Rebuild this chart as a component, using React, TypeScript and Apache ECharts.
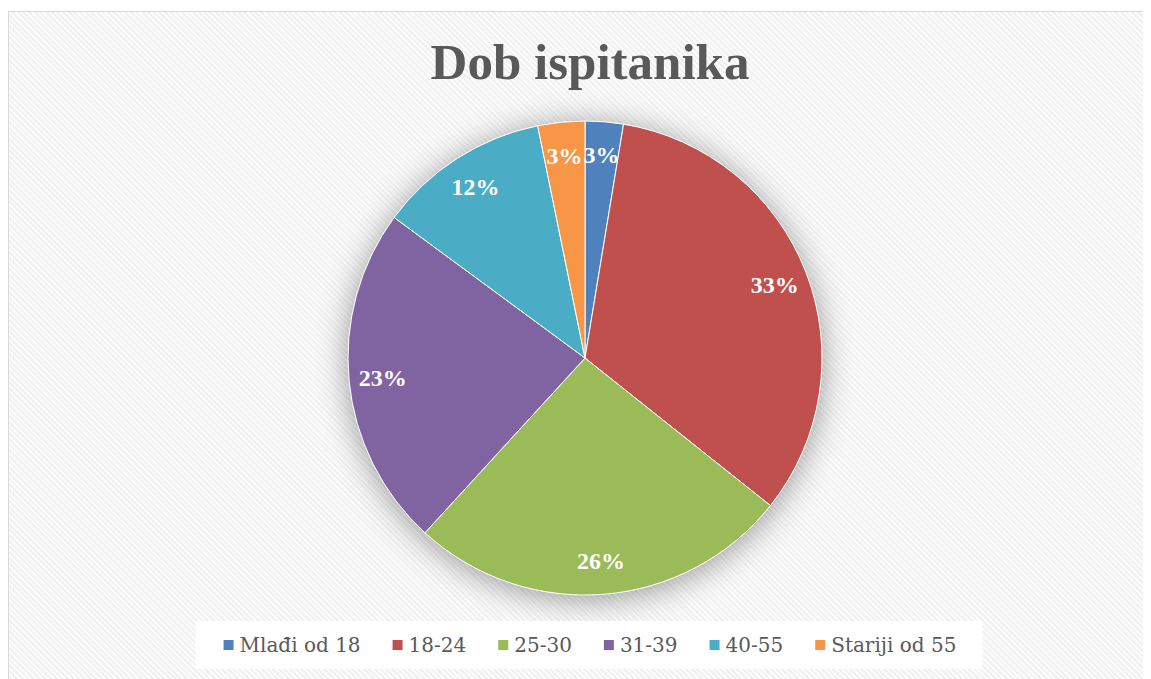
import React, { useEffect, useRef } from "react";
import * as echarts from "echarts";

const titleText = "Dob ispitanika";
const categories = ["Mlađi od 18", "18-24", "25-30", "31-39", "40-55", "Stariji od 55"];
const values = [2.6, 33.1, 26.1, 23.3, 11.7, 3.2];
const colors = ["#4F81BD", "#C0504D", "#9BBB59", "#8064A2", "#4BACC6", "#F79646"];

export default function App() {
  const ref = useRef<HTMLDivElement>(null);
  useEffect(() => {
    if (!ref.current) return;
    const chart = echarts.init(ref.current, undefined, { renderer: "svg" });
    const data = categories.map((name, i) => ({ name, value: values[i] }));
    const center = [576, 346];
    const R = 237;
    chart.setOption({
      animation: false,
      color: colors,
      title: {
        text: titleText,
        left: 576,
        textAlign: "center",
        top: 19,
        textStyle: {
          fontFamily: "Liberation Serif",
          fontWeight: "bold",
          fontSize: 51,
          color: "#595959",
        },
      },
      legend: {
        data: categories,
        left: "center",
        top: 609,
        icon: "rect",
        itemWidth: 12,
        itemHeight: 12,
        itemGap: 30,
        padding: [14, 26],
        backgroundColor: "#ffffff",
        textStyle: {
          fontFamily: "DejaVu Serif",
          fontSize: 20,
          color: "#595959",
        },
      },
      series: [
        {
          type: "pie",
          name: "main",
          center,
          radius: [0, R],
          z: 2,
          startAngle: 90,
          clockwise: true,
          silent: true,
          label: { show: false },
          labelLine: { show: false },
          itemStyle: { borderColor: "#ffffff", borderWidth: 1 },
          data,
        },
        {
          type: "pie",
          name: "labels",
          center,
          radius: [R * 0.69, R],
          z: 3,
          startAngle: 90,
          clockwise: true,
          silent: true,
          itemStyle: { color: "rgba(0,0,0,0)", borderWidth: 0 },
          labelLine: { show: false },
          label: {
            show: true,
            position: "inside",
            formatter: (p: any) => Math.round(p.percent) + "%",
            fontFamily: "Liberation Serif",
            fontWeight: "bold",
            fontSize: 24,
            color: "#ffffff",
          },
          data,
        },
        {
          type: "pie",
          name: "shadow",
          center,
          radius: [0, R],
          z: 1,
          silent: true,
          label: { show: false },
          labelLine: { show: false },
          itemStyle: {
            color: "#ffffff",
            shadowBlur: 32,
            shadowColor: "rgba(0,0,0,0.4)",
            shadowOffsetX: 0,
            shadowOffsetY: 4,
          },
          data: [{ name: "shadowBase", value: 1 }],
        },
      ],
    });
    return () => chart.dispose();
  }, []);

  return (
    <div style={{ width: 1143, height: 671, overflow: "hidden", paddingTop: 3, boxSizing: "border-box" }}>
      <div
        style={{
          width: 1160,
          height: 680,
          border: "1px solid #d9d9d9",
          background:
            "repeating-linear-gradient(45deg, #fcfcfc 0px, #fcfcfc 2px, #f1f1f1 2px, #f1f1f1 4px)",
        }}
      >
        <div ref={ref} style={{ width: 1160, height: 680 }} />
      </div>
    </div>
  );
}
